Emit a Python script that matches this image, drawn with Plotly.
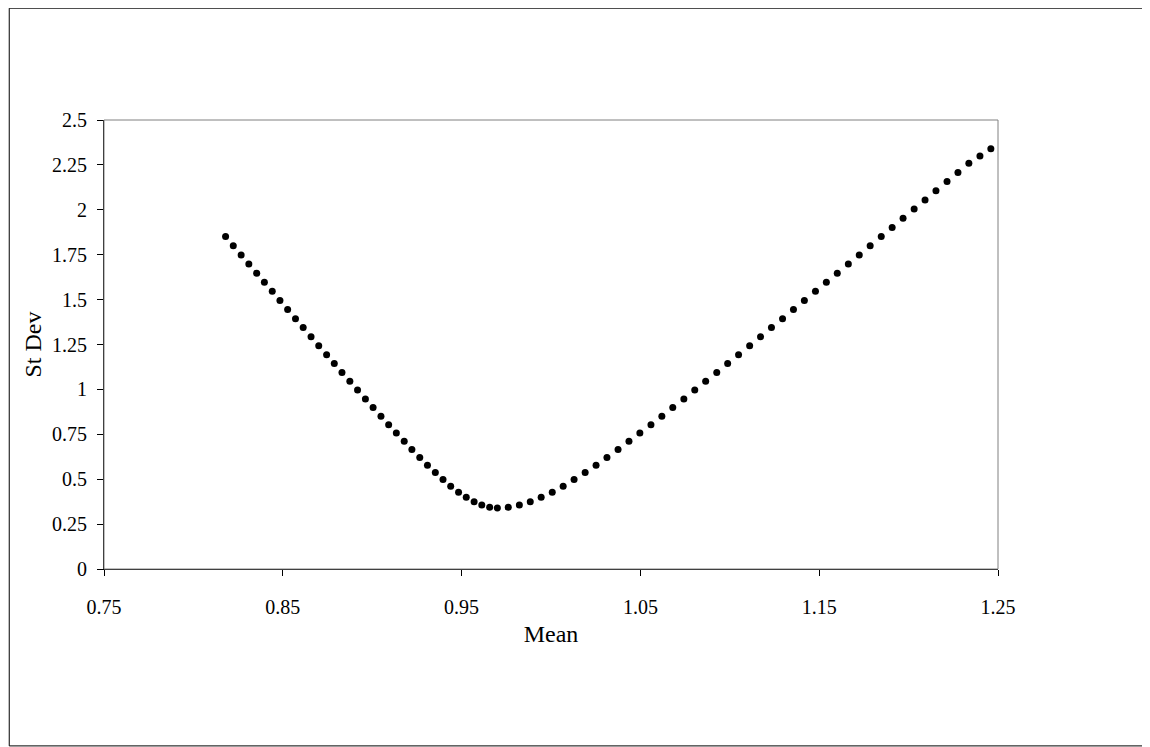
import plotly.graph_objects as go

mean_vals = [0.8180, 0.8223, 0.8267, 0.8310, 0.8354, 0.8397, 0.8441, 0.8484, 0.8527, 0.8571,
             0.8614, 0.8658, 0.8701, 0.8745, 0.8788, 0.8831, 0.8875, 0.8918, 0.8962, 0.9005,
             0.9049, 0.9092, 0.9135, 0.9179, 0.9222, 0.9266, 0.9309, 0.9353, 0.9396, 0.9439,
             0.9483, 0.9526, 0.9570, 0.9613, 0.9657, 0.9700,
             0.9761, 0.9823, 0.9884, 0.9945, 1.0007, 1.0068, 1.0129, 1.0191, 1.0252, 1.0313,
             1.0375, 1.0436, 1.0497, 1.0559, 1.0620, 1.0681, 1.0743, 1.0804, 1.0865, 1.0927,
             1.0988, 1.1049, 1.1111, 1.1172, 1.1233, 1.1295, 1.1356, 1.1417, 1.1479, 1.1540,
             1.1601, 1.1663, 1.1724, 1.1785, 1.1847, 1.1908, 1.1969, 1.2031, 1.2092, 1.2153,
             1.2215, 1.2276, 1.2337, 1.2399, 1.2460]
stdev_vals = [1.851, 1.800, 1.749, 1.698, 1.647, 1.597, 1.546, 1.495, 1.445, 1.394,
              1.344, 1.293, 1.243, 1.193, 1.144, 1.094, 1.045, 0.996, 0.947, 0.899,
              0.851, 0.803, 0.757, 0.711, 0.665, 0.621, 0.578, 0.537, 0.498, 0.461,
              0.428, 0.399, 0.374, 0.356, 0.344, 0.340,
              0.344, 0.356, 0.374, 0.399, 0.428, 0.461, 0.498, 0.537, 0.578, 0.621,
              0.665, 0.711, 0.757, 0.803, 0.851, 0.899, 0.947, 0.996, 1.045, 1.094,
              1.144, 1.193, 1.243, 1.293, 1.344, 1.394, 1.445, 1.495, 1.546, 1.597,
              1.647, 1.698, 1.749, 1.800, 1.851, 1.902, 1.953, 2.004, 2.055, 2.106,
              2.157, 2.208, 2.259, 2.300, 2.340]

x_ticks = [0.75, 0.85, 0.95, 1.05, 1.15, 1.25]
y_ticks = [0, 0.25, 0.5, 0.75, 1, 1.25, 1.5, 1.75, 2, 2.25, 2.5]

fig = go.Figure(go.Scatter(x=mean_vals, y=stdev_vals, mode="markers",
                           marker=dict(color="black", size=7)))
axis = dict(showgrid=False, zeroline=False, ticks="outside", ticklen=6,
            tickcolor="black", showline=True, linecolor="black", mirror=False,
            automargin=False,
            tickfont=dict(family="Liberation Serif", size=20, color="black"))
fig.update_xaxes(range=[0.75, 1.25], tickvals=x_ticks,
                 ticktext=[str(v) for v in x_ticks], ticklabelstandoff=14,
                 title=dict(text="Mean", standoff=8), **axis)
fig.update_yaxes(range=[0, 2.5], tickvals=y_ticks,
                 ticktext=[str(v) for v in y_ticks], ticklabelstandoff=6,
                 title=dict(text="St Dev", standoff=3), **axis)
fig.update_layout(
    width=1150, height=747, showlegend=False,
    margin=dict(l=96, r=160, t=112, b=186),
    plot_bgcolor="white", paper_bgcolor="white",
    font=dict(family="Liberation Serif", size=20, color="black"),
    shapes=[
        dict(type="rect", xref="paper", yref="paper", x0=0, x1=1, y0=0, y1=1,
             line=dict(color="#808080", width=1)),
        dict(type="rect", xref="paper", yref="paper", x0=-0.106, x1=1.1745,
             y0=-0.394, y1=1.249, line=dict(color="black", width=1)),
    ],
)
fig.write_html("out.html")
